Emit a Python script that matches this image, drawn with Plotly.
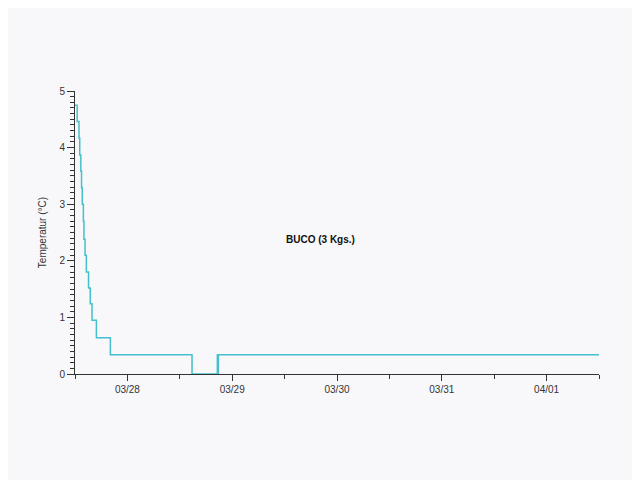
import plotly.graph_objects as go

# temperature readings (step changes), BUCO 3 kg
times = [
    "2021-03-27 12:00", "2021-03-27 12:30", "2021-03-27 12:55", "2021-03-27 13:05",
    "2021-03-27 13:20", "2021-03-27 13:30", "2021-03-27 13:40", "2021-03-27 13:55",
    "2021-03-27 14:03", "2021-03-27 14:18", "2021-03-27 14:36", "2021-03-27 15:06",
    "2021-03-27 15:30", "2021-03-27 15:54", "2021-03-27 16:54", "2021-03-27 20:06",
    "2021-03-28 14:48", "2021-03-28 20:36", "2021-03-28 20:42", "2021-03-28 20:50",
    "2021-04-01 12:00",
]
temps = [
    4.75, 4.46, 4.17, 3.87,
    3.58, 3.29, 3.00, 2.70,
    2.38, 2.10, 1.80, 1.52,
    1.24, 0.95, 0.64, 0.34,
    0.0, 0.34, 0.0, 0.34,
    0.34,
]

x_range = ["2021-03-27 12:00", "2021-04-01 12:00"]
y_range = [0, 5]
title_text = "BUCO (3 Kgs.)"
y_title = "Temperatur (°C)"

font = "Liberation Sans, Arial, Helvetica, sans-serif"
axis_col = "#333333"
bg = "#f8f8fb"

fig = go.Figure()
fig.add_trace(go.Scatter(
    x=times, y=temps, mode="lines", line_shape="hv",
    line=dict(color="#45bfcc", width=1.5), showlegend=False,
    cliponaxis=False,
))

# page has an 8px body margin, so shift the plot area up/left by 8
fig.update_layout(
    width=640, height=480,
    margin=dict(l=66.5, r=49, t=83, b=113.5),
    paper_bgcolor=bg, plot_bgcolor=bg,
    font=dict(family=font, size=10, color=axis_col),
    annotations=[dict(
        text="<b>" + title_text + "</b>", xref="paper", yref="paper",
        x=0.468, y=0.474, showarrow=False, font=dict(size=10, color="#111111"),
    )],
)
fig.update_xaxes(
    range=x_range, showgrid=False, zeroline=False,
    showline=True, linecolor=axis_col, linewidth=1,
    ticks="outside", ticklen=6, tickcolor=axis_col,
    tick0="2021-03-28", dtick=86400000, tickformat="%m/%d",
    tickfont=dict(size=10),
    minor=dict(dtick=43200000, tick0="2021-03-28", ticks="outside", ticklen=4, tickcolor=axis_col, showgrid=False),
)
fig.update_yaxes(
    range=y_range, showgrid=False, zeroline=False,
    showline=True, linecolor=axis_col, linewidth=1,
    ticks="outside", ticklen=7, tickcolor=axis_col, dtick=1,
    tickfont=dict(size=10),
    title=dict(text=y_title, font=dict(size=10), standoff=10),
    minor=dict(dtick=0.1, ticks="outside", ticklen=4, tickcolor=axis_col, showgrid=False),
)

fig.write_html("out.html")
